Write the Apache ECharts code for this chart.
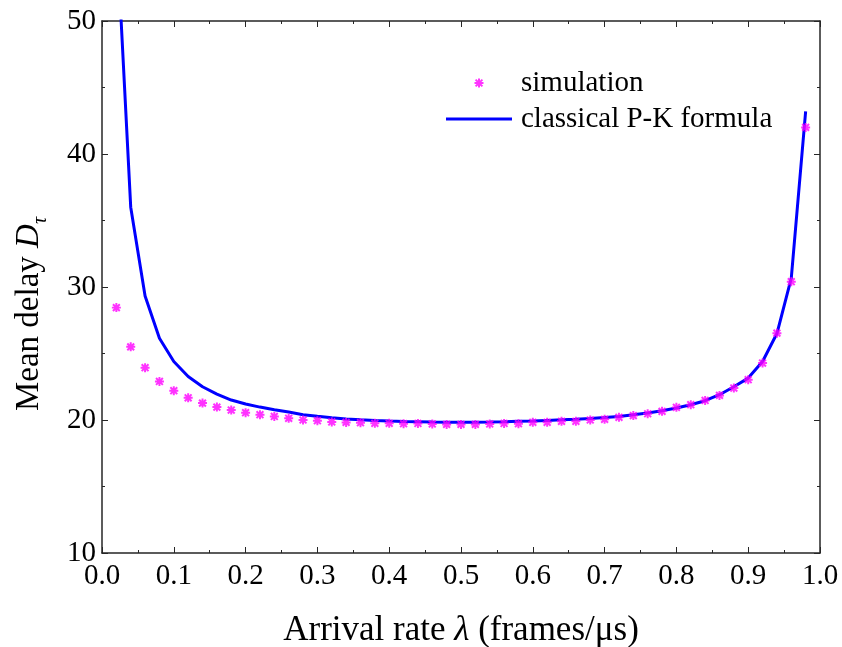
<!DOCTYPE html>
<html>
<head>
<meta charset="utf-8">
<script src="https://cdn.jsdelivr.net/npm/echarts@6/dist/echarts.min.js"></script>
<style>
  html, body { margin: 0; padding: 0; background: #ffffff; }
  #chart { width: 842px; height: 647px; }
</style>
</head>
<body>
<div id="chart"></div>
<script>
// Arrival rate λ (frames/μs) at which the delay was evaluated
const arrivalRate = [
  0.02, 0.04, 0.06, 0.08, 0.10, 0.12, 0.14, 0.16, 0.18, 0.20,
  0.22, 0.24, 0.26, 0.28, 0.30, 0.32, 0.34, 0.36, 0.38, 0.40,
  0.42, 0.44, 0.46, 0.48, 0.50, 0.52, 0.54, 0.56, 0.58, 0.60,
  0.62, 0.64, 0.66, 0.68, 0.70, 0.72, 0.74, 0.76, 0.78, 0.80,
  0.82, 0.84, 0.86, 0.88, 0.90, 0.92, 0.94, 0.96, 0.98
];

// Mean delay from simulation
const simulationDelay = [
  28.45, 25.50, 23.93, 22.90, 22.20, 21.67, 21.27, 20.97, 20.75, 20.55,
  20.40, 20.27, 20.13, 20.00, 19.95, 19.85, 19.82, 19.80, 19.75, 19.75,
  19.72, 19.74, 19.70, 19.67, 19.67, 19.67, 19.70, 19.74, 19.72, 19.83,
  19.83, 19.90, 19.90, 20.00, 20.05, 20.20, 20.33, 20.47, 20.65, 20.95,
  21.15, 21.47, 21.85, 22.40, 23.03, 24.28, 26.53, 30.40, 42.00
];

// Mean delay from the classical Pollaczek-Khinchine formula
const pkFormulaDelay = [
  57.00, 36.00, 29.33, 26.15, 24.40, 23.27, 22.50, 21.95, 21.50, 21.20,
  20.97, 20.77, 20.60, 20.40, 20.28, 20.17, 20.08, 20.01, 19.96, 19.92,
  19.89, 19.87, 19.85, 19.84, 19.84, 19.84, 19.85, 19.87, 19.90, 19.93,
  19.97, 20.01, 20.06, 20.12, 20.19, 20.27, 20.40, 20.53, 20.70, 20.90,
  21.15, 21.45, 21.90, 22.50, 23.15, 24.40, 26.50, 30.66, 43.20
];

const seriesNames = ['simulation', 'classical P-K formula'];

const serif = "'Liberation Serif', 'Times New Roman', serif";
const axisColor = '#262626';
const markerColor = '#ff00ff';
const lineColor = '#0000ff';

// Bold eight-armed asterisk: four filled bars in a 10x10 box
const asteriskBars = [
  [[3.9, 0], [6.1, 0], [6.1, 10], [3.9, 10]],
  [[0, 3.9], [10, 3.9], [10, 6.1], [0, 6.1]],
  [[1.98, 0.42], [9.58, 8.02], [8.02, 9.58], [0.42, 1.98]],
  [[8.02, 0.42], [9.58, 1.98], [1.98, 9.58], [0.42, 8.02]]
];
function polysToPath(polys, scale, dx, dy) {
  return polys.map(poly => poly.map((p, k) =>
    (k === 0 ? 'M' : 'L') + (p[0] * scale + dx).toFixed(2) + ',' + (p[1] * scale + dy).toFixed(2)
  ).join('') + 'Z').join('');
}
const asterisk = 'path://' + polysToPath(asteriskBars, 1, 0, 0);

// Legend icons live in a 66x9 box; tiny corner specks pin the bounding box
const legendW = 66, legendH = 9;
const legendFrame = 'M0,0L0.01,0L0.01,0.01Z' +
  'M' + (legendW - 0.01) + ',' + (legendH - 0.01) + 'L' + legendW + ',' + (legendH - 0.01) + 'L' + legendW + ',' + legendH + 'Z';
const legendAsterisk = 'path://' + legendFrame + polysToPath(asteriskBars, 0.9, legendW / 2 - 4.5, 0);
const legendLine = 'path://' + legendFrame + 'M0,3L' + legendW + ',3L' + legendW + ',6L0,6Z';

const simPoints = arrivalRate.map((x, i) => [x, simulationDelay[i]]);
const pkPoints = arrivalRate.map((x, i) => [x, pkFormulaDelay[i]]);

const boxAxis = {
  axisLine: { show: true, onZero: false, lineStyle: { color: axisColor, width: 1.5 } },
  axisTick: { show: true, inside: true, length: 6, lineStyle: { color: axisColor, width: 1 } },
  minorTick: { show: true, splitNumber: 2, length: 3, lineStyle: { color: axisColor, width: 1 } },
  splitLine: { show: false },
  minorSplitLine: { show: false }
};

const chart = echarts.init(document.getElementById('chart'), null, { renderer: 'canvas' });

chart.setOption({
  backgroundColor: '#ffffff',
  animation: false,
  grid: { left: 102, right: 22, top: 21, bottom: 94, containLabel: false, outerBoundsMode: 'none' },
  xAxis: [
    Object.assign({
      type: 'value', position: 'bottom', min: 0, max: 1, interval: 0.1,
      axisLabel: {
        show: true, margin: 9, color: '#000', fontFamily: serif, fontSize: 29,
        formatter: v => v.toFixed(1)
      },
      name: '{t|Arrival rate }{i|λ}{t| (frames/μs)}',
      nameLocation: 'middle', nameGap: 60,
      nameTextStyle: {
        rich: {
          t: { fontFamily: serif, fontSize: 35, color: '#000' },
          i: { fontFamily: serif, fontSize: 35, fontStyle: 'italic', color: '#000' }
        }
      }
    }, boxAxis),
    Object.assign({
      type: 'value', position: 'top', min: 0, max: 1, interval: 0.1,
      axisLabel: { show: false }
    }, boxAxis)
  ],
  yAxis: [
    Object.assign({
      type: 'value', position: 'left', min: 10, max: 50, interval: 10,
      axisLabel: { show: true, margin: 6, color: '#000', fontFamily: serif, fontSize: 29 },
      name: '{t|Mean delay }{d|D}{s|τ}',
      nameLocation: 'middle', nameRotate: 90, nameGap: 51,
      nameTextStyle: {
        padding: [0, 54, 0, 0],
        rich: {
          t: { fontFamily: serif, fontSize: 33, color: '#000' },
          d: { fontFamily: serif, fontSize: 33, fontStyle: 'italic', color: '#000' },
          s: { fontFamily: serif, fontSize: 20, fontStyle: 'italic', color: '#000', padding: [24, 0, 0, 0] }
        }
      }
    }, boxAxis),
    Object.assign({
      type: 'value', position: 'right', min: 10, max: 50, interval: 10,
      axisLabel: { show: false }
    }, boxAxis)
  ],
  legend: {
    orient: 'vertical',
    left: 446, top: 68, padding: 0,
    itemWidth: legendW, itemHeight: legendH, itemGap: 6,
    symbolKeepAspect: false,
    itemStyle: { borderWidth: 0 },
    data: [
      { name: seriesNames[0], icon: legendAsterisk },
      { name: seriesNames[1], icon: legendLine }
    ],
    textStyle: { fontFamily: serif, fontSize: 29, color: '#000', lineHeight: 30, padding: [0, 0, 0, 4] }
  },
  series: [
    {
      name: seriesNames[1],
      type: 'line',
      xAxisIndex: 0, yAxisIndex: 0,
      data: pkPoints,
      symbol: 'none',
      smooth: false,
      clip: true,
      lineStyle: { color: lineColor, width: 3 },
      itemStyle: { color: lineColor },
      z: 2
    },
    {
      name: seriesNames[0],
      type: 'scatter',
      xAxisIndex: 0, yAxisIndex: 0,
      data: simPoints,
      symbol: asterisk,
      symbolSize: 9,
      itemStyle: { color: markerColor, borderWidth: 0 },
      z: 3
    }
  ]
});
</script>
</body>
</html>
